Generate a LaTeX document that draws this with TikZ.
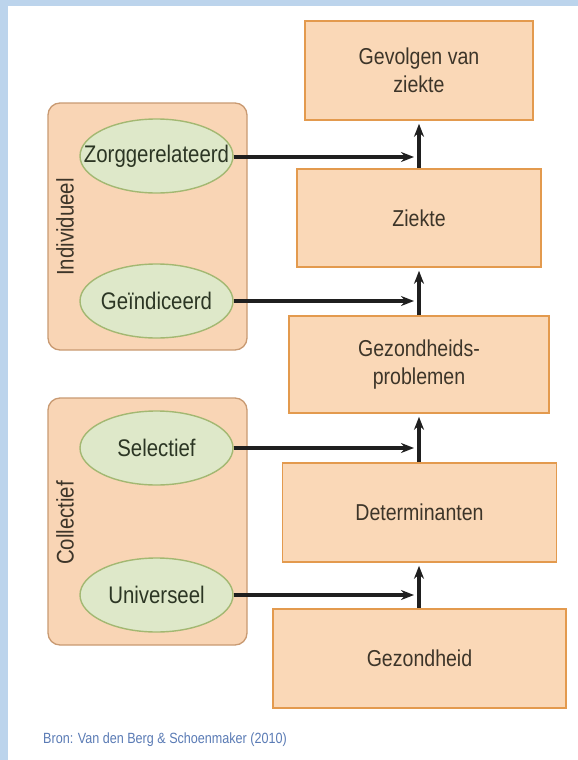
\documentclass[tikz,border=0pt]{standalone}
\usepackage{fontspec}
\setmainfont[FakeStretch=0.85]{Liberation Sans}
\usetikzlibrary{shapes.geometric,arrows.meta}
\definecolor{bluebar}{HTML}{BCD4EC}
\definecolor{boxfill}{HTML}{FAD8B7}
\definecolor{boxdraw}{HTML}{E39A4E}
\definecolor{grpfill}{HTML}{F9D5B5}
\definecolor{grpdraw}{HTML}{C99A72}
\definecolor{ellfill}{HTML}{DEE8C9}
\definecolor{elldraw}{HTML}{A3B872}
\definecolor{txt}{HTML}{3D3529}
\definecolor{etxt}{HTML}{2C3624}
\definecolor{srctxt}{HTML}{5A7BB5}
\tikzset{
  stage/.style={draw=boxdraw, fill=boxfill, line width=1.6pt, inner sep=0pt, align=center,
    text=txt, font=\fontsize{23}{28}\selectfont},
  group/.style={draw=grpdraw, fill=grpfill, line width=1.3pt, rounded corners=12pt,
    minimum width=199pt, minimum height=247pt, inner sep=0pt},
  kind/.style={ellipse, draw=elldraw, fill=ellfill, line width=1.4pt, minimum width=153pt,
    minimum height=74pt, inner xsep=-19pt, inner ysep=0pt, text=etxt, font=\fontsize{24}{28}\selectfont},
  grplabel/.style={rotate=90, text=txt, font=\fontsize{24}{28}\selectfont},
  arr/.style={line width=3.4pt, draw=black!88, -{Stealth[length=13pt,width=10pt]}},
}
\begin{document}
\begin{tikzpicture}[x=1pt,y=-1pt]
\useasboundingbox (0,0) rectangle (578,760);
\fill[white] (0,0) rectangle (578,760);
\fill[bluebar] (0,0) rectangle (578,6);
\fill[bluebar] (0,0) rectangle (8,760);

% right column
\node[stage, minimum width=228pt, minimum height=99pt] (g1) at (419,70.5) {Gevolgen van\\ziekte};
\node[stage, minimum width=244pt, minimum height=98pt] (g2) at (419,218) {Ziekte};
\node[stage, minimum width=260pt, minimum height=97pt] (g3) at (419,364.5) {Gezondheids-\\problemen};
\node[stage, minimum width=274pt, minimum height=99pt] (g4) at (419.5,512.5) {Determinanten};
\node[stage, minimum width=293pt, minimum height=99pt] (g5) at (419.5,658.5) {Gezondheid};

% left groups
\node[group] (ind) at (147.5,226.5) {};
\node[group] (col) at (147.5,521.5) {};
\node[grplabel] (indl) at (65,227) {Individueel};
\node[grplabel] (coll) at (65,523) {Collectief};

\node[kind] (zor) at (156.5,156) {Zorggerelateerd};
\node[kind] (gei) at (156.5,301) {Geïndiceerd};
\node[kind] (sel) at (156.5,448) {Selectief};
\node[kind] (uni) at (156.5,595) {Universeel};

% vertical arrows
\draw[arr, shorten >=3pt] (g5.north -| 419,0) -- (g4.south -| 419,0);
\draw[arr, shorten >=3pt] (g4.north -| 419,0) -- (g3.south -| 419,0);
\draw[arr, shorten >=3pt] (g3.north -| 419,0) -- (g2.south -| 419,0);
\draw[arr, shorten >=3pt] (g2.north -| 419,0) -- (g1.south -| 419,0);

% horizontal arrows
\coordinate (t1) at (414,157);
\coordinate (t2) at (414,301);
\coordinate (t3) at (414,448);
\coordinate (t4) at (414,595);
\draw[arr] (zor.east |- t1) -- (t1);
\draw[arr] (gei.east) -- (t2);
\draw[arr] (sel.east) -- (t3);
\draw[arr] (uni.east) -- (t4);

\node[anchor=west, text=srctxt, font=\fontsize{14.8}{17}\selectfont, inner sep=0pt] (src) at (43,740) {Bron: Van den Berg \& Schoenmaker (2010)};
\end{tikzpicture}
\end{document}
